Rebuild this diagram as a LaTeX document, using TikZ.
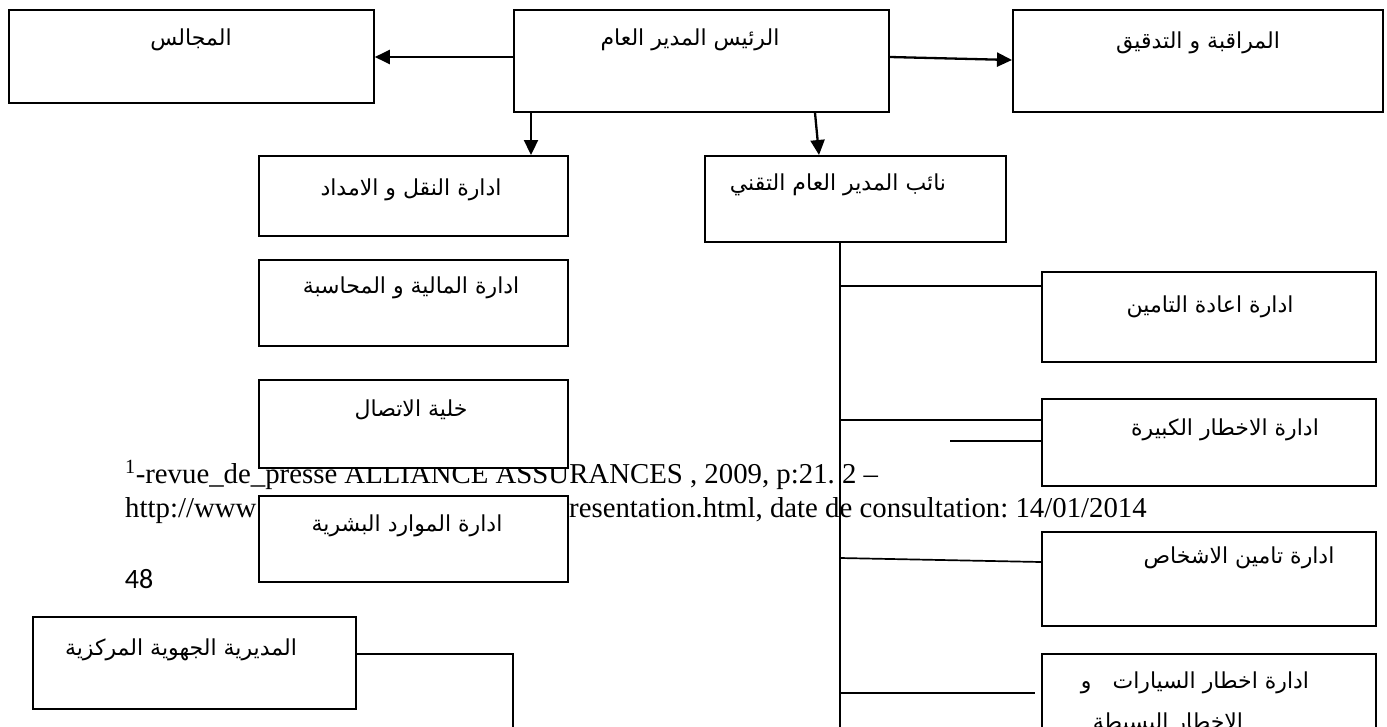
\documentclass[tikz,border=0pt]{standalone}
\usepackage{fontspec}
\setmainfont{Liberation Serif}
\newfontfamily\arabicfont[Script=Arabic]{DejaVu Sans}
\newfontfamily\numfont{Carlito}
\TeXXeTstate=1
\frenchspacing
\usetikzlibrary{arrows.meta}
\newcommand\AR[1]{\beginR #1\endR}
\tikzset{
  box/.style={draw, line width=1.8pt, fill=white, inner sep=0pt, anchor=north west},
  lbl/.style={font=\arabicfont\fontsize{22}{26}\selectfont, inner sep=0pt},
  arr/.style={line width=2.3pt, -{Triangle[length=15pt,width=14pt]}},
  conn/.style={line width=1.7pt},
  foot/.style={font=\fontsize{28.8}{33}\selectfont, inner sep=0pt, anchor=base west},
}
\begin{document}
\begin{tikzpicture}[x=1pt,y=-1pt]
\useasboundingbox (0,0) rectangle (1387,726);
\clip (0,0) rectangle (1387,726);
% footnote texts (under boxes)
\node[foot] (f1) at (125,483) {\textsuperscript{1}-revue\_de\_presse ALLIANCE ASSURANCES , 2009, p:21. 2 –};
\node[foot] (f2a) at (125,517) {http://www};
\node[foot] (f2b) at (569,517) {resentation.html, date de consultation: 14/01/2014};
\node[font=\numfont\fontsize{28}{30}\selectfont, inner sep=0pt] (pg) at (139,579) {48};
% boxes
\node[box, minimum width=365pt, minimum height=93pt]  (maj)     at (8,9) {};
\node[box, minimum width=375pt, minimum height=102pt] (ceo)     at (513,9) {};
\node[box, minimum width=370pt, minimum height=102pt] (audit)   at (1012,9) {};
\node[box, minimum width=309pt, minimum height=80pt]  (naql)    at (258,155) {};
\node[box, minimum width=301pt, minimum height=86pt]  (naib)    at (704,155) {};
\node[box, minimum width=309pt, minimum height=86pt]  (mal)     at (258,259) {};
\node[box, minimum width=309pt, minimum height=88pt]  (ittisal) at (258,379) {};
\node[box, minimum width=309pt, minimum height=86pt]  (mawarid) at (258,495) {};
\node[box, minimum width=323pt, minimum height=92pt]  (jihawi)  at (32,616) {};
\node[box, minimum width=334pt, minimum height=90pt]  (iada)    at (1041,271) {};
\node[box, minimum width=334pt, minimum height=87pt]  (kabira)  at (1041,398) {};
\node[box, minimum width=334pt, minimum height=94pt]  (ashkhas) at (1041,531) {};
\node[box, minimum width=334pt, minimum height=100pt] (sayarat) at (1041,653) {};
% labels
\node[lbl] (tmaj)  at (191,40)  {\AR{المجالس}};
\node[lbl] (tceo)  at (690,40)  {\AR{الرئيس المدير العام}};
\node[lbl] (taud)  at (1198,43) {\AR{المراقبة و التدقيق}};
\node[lbl] (tnaql) at (411,190) {\AR{ادارة النقل و الامداد}};
\node[lbl] (tnaib) at (838,185) {\AR{نائب المدير العام التقني}};
\node[lbl] (tmal)  at (411,288) {\AR{ادارة المالية و المحاسبة}};
\node[lbl] (titt)  at (411,410) {\AR{خلية الاتصال}};
\node[lbl] (tmaw)  at (407,526) {\AR{ادارة الموارد البشرية}};
\node[lbl] (tjih)  at (181,650) {\AR{المديرية الجهوية المركزية}};
\node[lbl] (tiada) at (1210,307) {\AR{ادارة اعادة التامين}};
\node[lbl] (tkab)  at (1225,430) {\AR{ادارة الاخطار الكبيرة}};
\node[lbl] (tash)  at (1239,558) {\AR{ادارة تامين الاشخاص}};
\node[lbl, anchor=base] (tsay1) at (1195,688) {\AR{ادارة اخطار السيارات \ \ و}};
\node[lbl, anchor=base] (tsay2) at (1168,729) {\AR{الاخطار البسيطة}};
% arrows from the top box
\coordinate (aL) at ([yshift=-48pt]ceo.north west);
\draw[arr] (aL) -- (aL -| maj.east);
\draw[arr] ([yshift=-48pt]ceo.north east) -- ([yshift=-51pt]audit.north west);
\coordinate (d1) at ([xshift=18pt]ceo.south west);
\draw[arr] (d1) -- (d1 |- naql.north);
\draw[arr] ([xshift=302pt]ceo.south west) -- ([xshift=115pt]naib.north west);
% spine of the technical branch
\coordinate (sp) at ([xshift=136pt]naib.south west);
\coordinate (spEnd) at (sp |- 0,760);
\draw[conn] (sp) -- (spEnd);
\coordinate (b1) at ([yshift=-15pt]iada.north west);
\draw[conn] (b1 -| sp) -- (b1);
\coordinate (b2) at ([yshift=-22pt]kabira.north west);
\draw[conn] (b2 -| sp) -- (b2);
\coordinate (b2x) at ([yshift=-43pt]kabira.north west);
\draw[conn] (b2x) -- ++(-91,0);
\coordinate (b3) at ([yshift=-31pt]ashkhas.north west);
\coordinate (b3s) at ([yshift=-27pt]ashkhas.north west);
\draw[conn] (b3s -| sp) -- (b3);
\coordinate (b4) at ([xshift=-6pt,yshift=-40pt]sayarat.north west);
\draw[conn] (b4 -| sp) -- (b4);
% regional directorate connector
\coordinate (j1) at ([yshift=-38pt]jihawi.north east);
\coordinate (j2) at (j1 -| ceo.south west);
\draw[conn] (j1) -- (j2) -- (j2 |- spEnd);
\end{tikzpicture}
\end{document}
